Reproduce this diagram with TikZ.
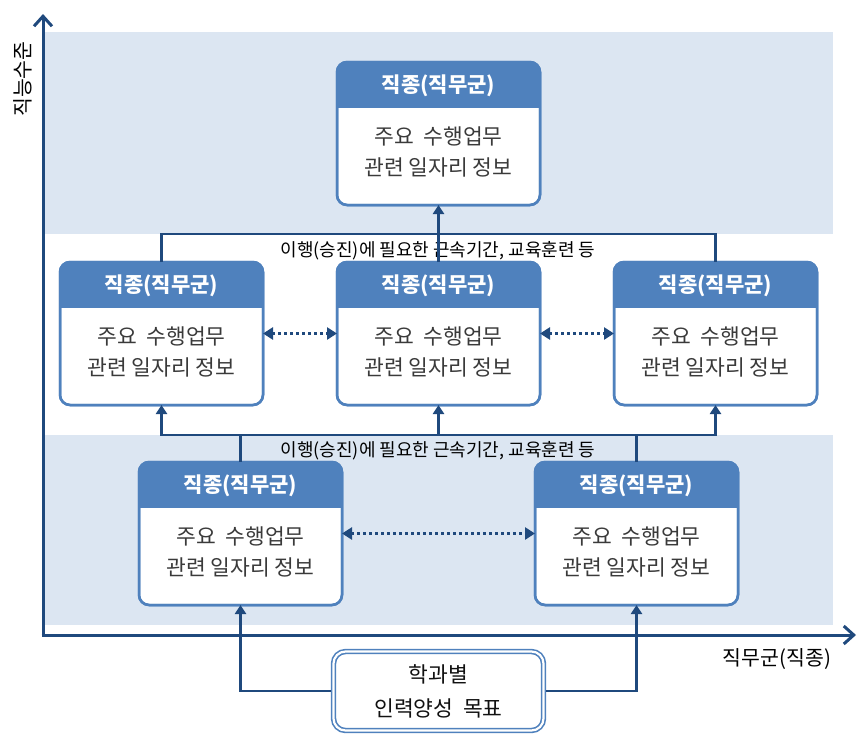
\documentclass[tikz,border=0pt]{standalone}
\usepackage{fontspec}
\setmainfont{Noto Sans CJK KR}
\usetikzlibrary{arrows.meta}
\definecolor{band}{HTML}{DCE6F2}
\definecolor{hd}{HTML}{4F81BD}
\definecolor{navy}{HTML}{1F497D}
\definecolor{bodytxt}{HTML}{3A3A3A}
\definecolor{goaltxt}{HTML}{111111}
\tikzset{
  boxbody/.style={draw=hd, line width=2.5pt, fill=white, rounded corners=10pt,
    minimum width=203pt, minimum height=143pt, inner sep=0pt, outer sep=0pt},
  hdtext/.style={text=white, font=\bfseries\fontsize{21}{24}\selectfont, inner sep=0pt},
  bodytext/.style={text=bodytxt, align=center, font=\fontsize{21.5}{31}\selectfont, inner sep=0pt},
  conn/.style={draw=navy, line width=2.5pt},
  uptip/.style={-{Triangle[length=9pt,width=11pt]}},
  dotarrow/.style={draw=navy, line width=3pt, dash pattern=on 3pt off 3pt,
    {Triangle[length=10pt,width=12pt]}-{Triangle[length=10pt,width=12pt]}},
  axisline/.style={draw=navy, line width=3pt, -{Straight Barb[length=10pt,width=18pt]}},
  lbl/.style={font=\fontsize{18}{20}\selectfont, text=black, inner sep=0pt},
  axlbl/.style={font=\fontsize{20.5}{22}\selectfont, text=black, inner sep=0pt},
  goalbox/.style={draw=hd, line width=1.6pt, double=white, double distance=2.2pt,
    rounded corners=12pt, fill=white, minimum width=210pt, minimum height=79pt,
    align=center, text=goaltxt, font=\fontsize{21.5}{34}\selectfont, outer sep=2.7pt}
}
\newcommand\jobbox[3]{%
  \node[boxbody] (#1) at (#2,#3) {};
  \begin{scope}
    \clip[rounded corners=10pt] (#1.north west) rectangle (#1.south east);
    \fill[hd] (#1.north west) rectangle ([yshift=-46pt]#1.north east);
  \end{scope}
  \draw[draw=hd, line width=2.5pt, rounded corners=10pt] (#1.north west) rectangle (#1.south east);
  \node[hdtext] (#1h) at ([yshift=-24pt]#1.north) {직종(직무군)};
  \node[bodytext] (#1t) at ([yshift=-90pt]#1.north) {주요\hspace{0.45em}수행업무\\관련 일자리 정보};
}
\begin{document}
\begin{tikzpicture}[x=1pt,y=-1pt]
\useasboundingbox (0,0) rectangle (868,737);
% bands
\fill[band] (45,32) rectangle (833,234);
\fill[band] (45,435) rectangle (833,625);
% axes
\coordinate (O) at (43,635);
\coordinate (ytop) at (43,14);
\coordinate (xend) at (856,635);
\draw[axisline] ([yshift=-1.5pt]O) -- (ytop);
\draw[axisline] ([xshift=-1.5pt]O) -- (xend);
\node[axlbl, rotate=90] (ylab) at (23,79) {직능수준};
\node[axlbl] (xlab) at (777,659) {직무군(직종)};
% boxes
\jobbox{top}{438.5}{133.5}
\jobbox{mL}{161.5}{333.5}
\jobbox{mC}{438.5}{333.5}
\jobbox{mR}{715.5}{333.5}
\jobbox{bL}{240.5}{533.5}
\jobbox{bR}{636.5}{533.5}
\node[goalbox] (goal) at (438.5,691) {학과별\\인력양성\hspace{0.45em}목표};
% junctions
\coordinate (j1) at (438.5,234);
\coordinate (j2) at (438.5,435);
% labels
\node[lbl] (l1) at (438,251) {이행(승진)에 필요한 근속기간, 교육훈련 등};
\node[lbl] (l2) at (438,451) {이행(승진)에 필요한 근속기간, 교육훈련 등};
% upper tree
\draw[conn] (mL.north) |- (j1) -| (mR.north);
\draw[conn, uptip] (mC.north) -- (top.south);
% lower tree
\draw[conn] (bL.north) -- (bL.north |- j2);
\draw[conn] (bR.north) -- (bR.north |- j2);
\draw[conn, uptip] (j2) -| (mL.south);
\draw[conn, uptip] (j2) -| (mR.south);
\draw[conn, uptip] (j2) -- (mC.south);
% goal
\draw[conn, uptip] (goal.west) -| (bL.south);
\draw[conn, uptip] (goal.east) -| (bR.south);
% dotted
\draw[dotarrow] (mL.east) -- (mC.west);
\draw[dotarrow] (mC.east) -- (mR.west);
\draw[dotarrow] (bL.east) -- (bR.west);
\end{tikzpicture}
\end{document}
